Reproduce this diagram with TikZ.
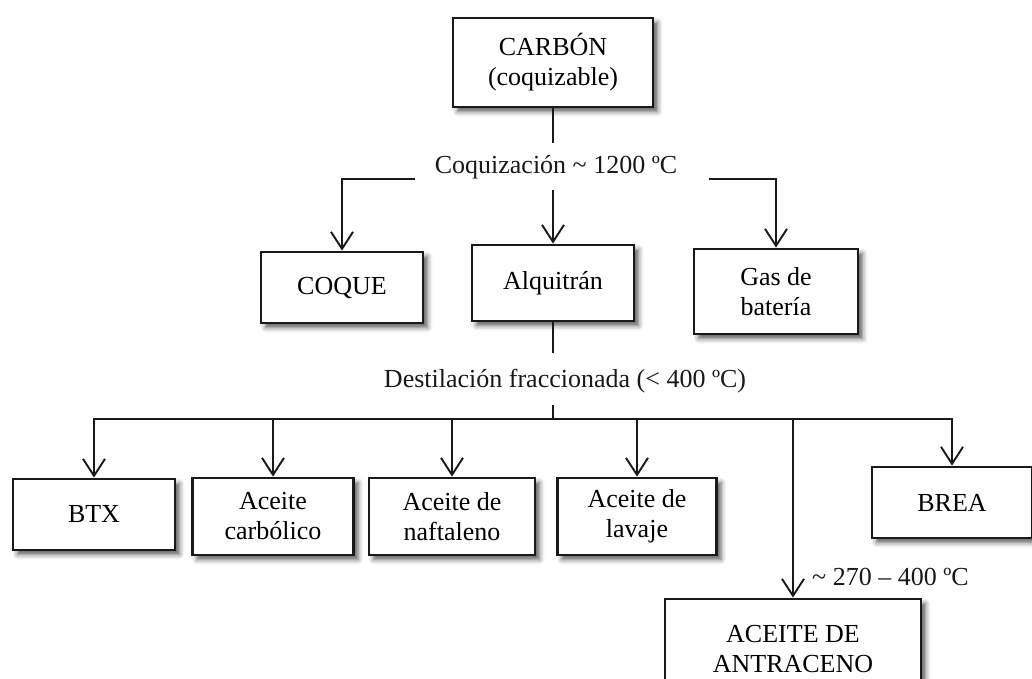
\documentclass[tikz,border=0pt]{standalone}
\usepackage{fontspec}
\setmainfont{Liberation Serif}
\usetikzlibrary{arrows.meta,shadows.blur}
\newcommand{\dfs}{\fontsize{26}{30}\selectfont}
\begin{document}
\begin{tikzpicture}[x=1pt,y=-1pt,
  box/.style={draw=black!90, line width=2.8pt, fill=white, align=center,
    inner sep=0pt, font=\dfs,
    blur shadow={shadow xshift=4.5pt, shadow yshift=-4.5pt, shadow blur radius=5pt, shadow opacity=65}},
  stub/.style={line width=2.8pt, draw=black!90},
  conn/.style={line width=1.9pt, draw=black!90},
  arr/.style={conn, -{Straight Barb[length=17pt,width=22pt]}},
  lbl/.style={font=\dfs, inner sep=0pt, text=black!90}]
\useasboundingbox (0,0) rectangle (1032,678);

% nodes
\node[box, minimum width=200pt, minimum height=89pt] (carbon) at (553,62.5) {CARBÓN\\(coquizable)};
\node[lbl, anchor=base] (coq) at (556,173) {Coquización \textasciitilde{} 1200 ºC};
\node[box, minimum width=162pt, minimum height=71pt] (coque) at (342,287.5) {COQUE};
\node[box, minimum width=162pt, minimum height=76pt] (alq) at (553,283) {Alquitrán};
\node[box, minimum width=164pt, minimum height=85pt] (gas) at (776,291.5) {Gas de\\batería};
\node[lbl, anchor=base] (dest) at (565,387) {Destilación fraccionada (< 400 ºC)};
\node[box, minimum width=162pt, minimum height=71pt] (btx) at (94,514.5) {BTX};
\node[box, minimum width=161pt, minimum height=77pt] (carb) at (273,516.5) {Aceite\\carbólico};
\node[box, minimum width=166pt, minimum height=77pt] (naft) at (452,516.5) {Aceite de\\naftaleno};
\node[box, minimum width=159pt, minimum height=77pt] (lav) at (637,516.5) {Aceite de\\lavaje};
\node[box, minimum width=160pt, minimum height=71pt] (brea) at (952,502.5) {BREA};
\node[box, minimum width=256pt, minimum height=100pt] (antr) at (793,649) {ACEITE DE\\ANTRACENO};
\node[lbl, anchor=base west] (temp) at (812,585) {\textasciitilde{} 270 – 400 ºC};

% junction coordinates
\coordinate (c1) at (553,143);
\coordinate (c2) at (553,190);
\coordinate (cl) at (415,179);
\coordinate (cr) at (709,179);
\coordinate (d1) at (553,353);
\coordinate (d2) at (553,405);
\coordinate (j0) at (553,419);

% connectors
\draw[stub] (carbon.south) -- (c1);
\draw[arr] (c2) -- (alq.north);
\draw[arr] (cl) -| (coque.north);
\draw[arr] (cr) -| (gas.north);
\draw[stub] (alq.south) -- (d1);
\draw[stub] (d2) -- (j0);
\draw[arr] (j0) -| (btx.north);
\draw[arr] (j0) -| (carb.north);
\draw[arr] (j0) -| (naft.north);
\draw[arr] (j0) -| (lav.north);
\draw[arr] (j0) -| (antr.north);
\draw[arr] (j0) -| (brea.north);
\end{tikzpicture}
\end{document}
